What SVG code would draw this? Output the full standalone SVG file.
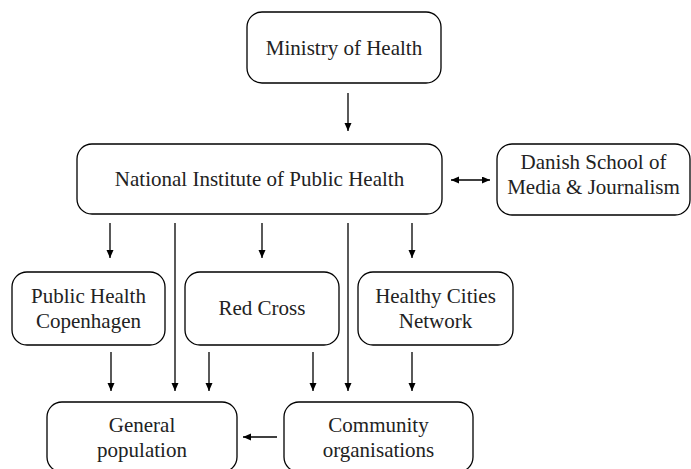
<svg xmlns="http://www.w3.org/2000/svg" width="691" height="469" viewBox="0 0 691 469">
<style>
.box{fill:#fff;stroke:#000;stroke-width:1.3}
.t{font-family:"Liberation Serif","Times New Roman",serif;font-size:21px;fill:#222;text-anchor:middle}
.c{stroke:#000;stroke-width:1.3;fill:none}
</style>
<defs>
<marker id="ah" markerUnits="userSpaceOnUse" markerWidth="9" markerHeight="8" refX="8" refY="3.5" orient="auto-start-reverse">
<path d="M0,0 L8,3.5 L0,7 z" fill="#000"/>
</marker>
</defs>
<rect width="691" height="469" fill="#fff"/>
<g id="connectors">
<line class="c" x1="348" y1="93" x2="348" y2="131" marker-end="url(#ah)"/>
<line class="c" x1="451" y1="180" x2="490" y2="180" marker-start="url(#ah)" marker-end="url(#ah)"/>
<line class="c" x1="110" y1="223" x2="110" y2="258" marker-end="url(#ah)"/>
<line class="c" x1="262" y1="223" x2="262" y2="258" marker-end="url(#ah)"/>
<line class="c" x1="412" y1="223" x2="412" y2="258" marker-end="url(#ah)"/>
<line class="c" x1="175" y1="223" x2="175" y2="391" marker-end="url(#ah)"/>
<line class="c" x1="348" y1="223" x2="348" y2="391" marker-end="url(#ah)"/>
<line class="c" x1="111" y1="352" x2="111" y2="391" marker-end="url(#ah)"/>
<line class="c" x1="209" y1="352" x2="209" y2="391" marker-end="url(#ah)"/>
<line class="c" x1="313" y1="352" x2="313" y2="391" marker-end="url(#ah)"/>
<line class="c" x1="412" y1="352" x2="412" y2="391" marker-end="url(#ah)"/>
<line class="c" x1="277" y1="437" x2="243" y2="437" marker-end="url(#ah)"/>
</g>
<g id="ministry">
<rect class="box" x="247" y="12" width="194" height="71" rx="15"/>
<text class="t" x="344" y="55">Ministry of Health</text>
</g>
<g id="national">
<rect class="box" x="77" y="144" width="365" height="70" rx="15"/>
<text class="t" x="259.5" y="186">National Institute of Public Health</text>
</g>
<g id="danish">
<rect class="box" x="497" y="144" width="193" height="71" rx="15"/>
<text class="t" x="593.5" y="169">Danish School of</text>
<text class="t" x="593.5" y="194">Media &amp; Journalism</text>
</g>
<g id="phc">
<rect class="box" x="12" y="272" width="153" height="73" rx="15"/>
<text class="t" x="88.5" y="303">Public Health</text>
<text class="t" x="88.5" y="328">Copenhagen</text>
</g>
<g id="redcross">
<rect class="box" x="185" y="272" width="154" height="73" rx="15"/>
<text class="t" x="262" y="315">Red Cross</text>
</g>
<g id="healthy">
<rect class="box" x="358" y="272" width="155" height="73" rx="15"/>
<text class="t" x="435.5" y="303">Healthy Cities</text>
<text class="t" x="435.5" y="328">Network</text>
</g>
<g id="general">
<rect class="box" x="47" y="402" width="190" height="70" rx="15"/>
<text class="t" x="142" y="432">General</text>
<text class="t" x="142" y="457">population</text>
</g>
<g id="community">
<rect class="box" x="284" y="402" width="189" height="70" rx="15"/>
<text class="t" x="378.5" y="432">Community</text>
<text class="t" x="378.5" y="457">organisations</text>
</g>
</svg>
